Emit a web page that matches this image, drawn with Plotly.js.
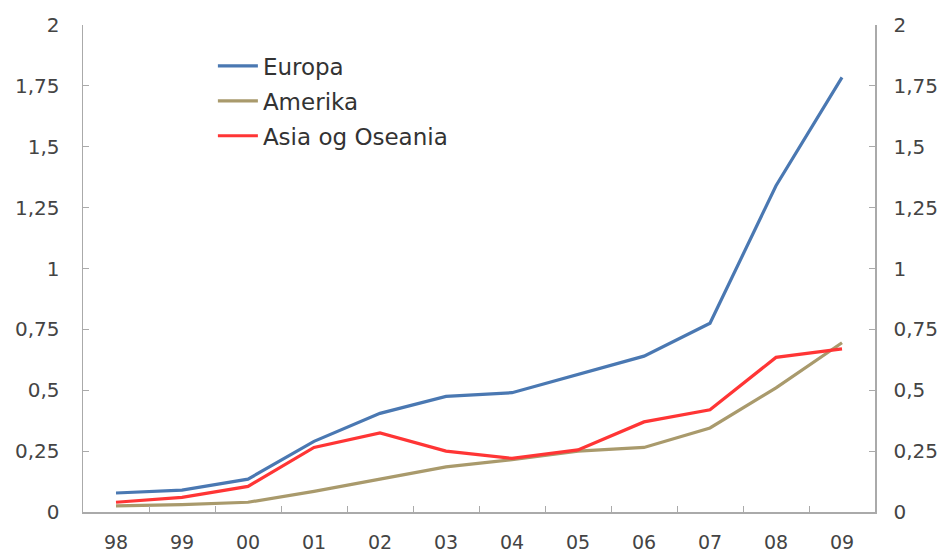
<!DOCTYPE html>
<html>
<head>
<meta charset="utf-8">
<script src="https://cdn.plot.ly/plotly-3.0.1.min.js"></script>
<style>
  html, body { margin: 0; padding: 0; background: #fff; }
  #chart { width: 944px; height: 557px; }
</style>
</head>
<body>
<div id="chart"></div>
<script>
// Years (two-digit labels)
const years = ['98', '99', '00', '01', '02', '03', '04', '05', '06', '07', '08', '09'];

// Series values
const europa = [0.078, 0.09, 0.135, 0.29, 0.405, 0.475, 0.49, 0.565, 0.64, 0.775, 1.34, 1.785];
const amerika = [0.025, 0.03, 0.04, 0.085, 0.135, 0.185, 0.215, 0.25, 0.265, 0.345, 0.51, 0.695];
const asia = [0.04, 0.06, 0.105, 0.265, 0.325, 0.25, 0.22, 0.255, 0.37, 0.42, 0.635, 0.67];

const seriesNames = ['Europa', 'Amerika', 'Asia og Oseania'];
const seriesColors = ['#4a78b2', '#a99a6c', '#ff3535'];
const seriesData = [europa, amerika, asia];

const traces = seriesData.map((vals, i) => ({
  x: years,
  y: vals,
  type: 'scatter',
  mode: 'lines',
  name: seriesNames[i],
  legendgroup: 'g' + i,
  line: { color: seriesColors[i], width: 3.2 },
  hoverinfo: 'x+y+name'
}));

const tickFont = { family: 'DejaVu Sans, sans-serif', size: 20, color: '#444' };
const xTickFont = { family: 'DejaVu Sans, sans-serif', size: 19, color: '#444' };
const axisColor = '#aaaaaa';

const yCommon = {
  range: [0, 2],
  dtick: 0.25,
  tick0: 0,
  showgrid: false,
  zeroline: false,
  showline: true,
  linecolor: axisColor,
  linewidth: 1.5,
  ticks: 'inside',
  ticklen: 6,
  tickcolor: axisColor,
  tickfont: tickFont,
  fixedrange: true
};

const layout = {
  width: 944,
  height: 557,
  margin: { l: 83, r: 69, t: 25, b: 45 },
  paper_bgcolor: '#ffffff',
  plot_bgcolor: '#ffffff',
  separators: ', ',
  showlegend: true,
  legend: {
    x: 0.164,
    y: 0.96,
    xanchor: 'left',
    yanchor: 'top',
    bgcolor: 'rgba(0,0,0,0)',
    font: { family: 'DejaVu Sans, sans-serif', size: 23, color: '#333' },
    tracegroupgap: 2,
    itemwidth: 40
  },
  xaxis: {
    type: 'category',
    range: [-0.5, years.length - 0.5],
    showgrid: false,
    zeroline: false,
    showline: true,
    linecolor: axisColor,
    linewidth: 1.5,
    ticks: 'inside',
    tickson: 'boundaries',
    ticklen: 6,
    tickcolor: axisColor,
    tickfont: xTickFont,
    ticklabelstandoff: 13,
    fixedrange: true
  },
  yaxis: Object.assign({ side: 'left', ticklabelstandoff: 18 }, yCommon),
  yaxis2: Object.assign({ side: 'right', overlaying: 'y', ticklabelstandoff: 13 }, yCommon)
};

// Mirror axis on the right needs a carrier trace so it renders
traces.push({
  x: years, y: europa, yaxis: 'y2', type: 'scatter', mode: 'lines',
  line: { color: 'rgba(0,0,0,0)', width: 0 }, showlegend: false, hoverinfo: 'skip'
});

Plotly.newPlot('chart', traces, layout, { displayModeBar: false, staticPlot: true });
</script>
</body>
</html>
